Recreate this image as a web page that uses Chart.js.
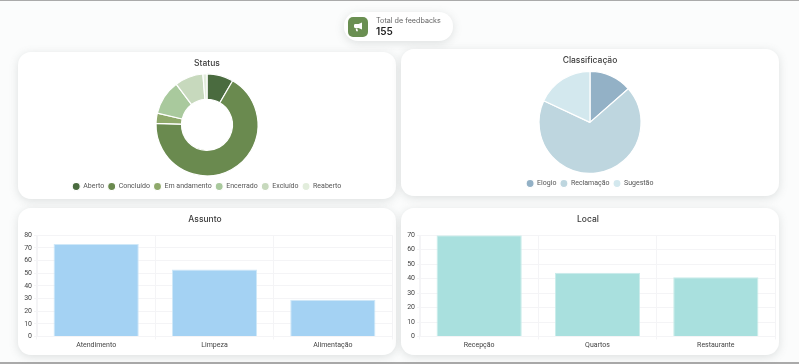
<!DOCTYPE html>
<html><head><meta charset="utf-8">
<script src="https://cdn.jsdelivr.net/npm/chart.js@4"></script>
<style>
html,body{margin:0;padding:0;background:#fbfcfc;width:799px;height:364px;overflow:hidden;font-family:Inter,sans-serif}
#wrap{position:absolute;left:0;top:0;width:799px;height:364px;filter:blur(.35px)}
.topbar,.botbar{position:absolute;left:0;width:799px;background:#aaa}
.topbar{top:0;height:1px}.botbar{top:362px;height:2px}
.card{position:absolute;background:#fff;border-radius:13px;box-shadow:0 2px 10px rgba(100,110,110,.2)}
.card canvas{position:absolute;left:0;top:0}
#total{left:344px;top:12px;width:109px;height:29px;border-radius:14px}
#ico{position:absolute;left:4px;top:5px;width:20px;height:20px;border-radius:5px;background:#6a8f52}
#ico svg{position:absolute;left:4px;top:4px}
#lbl{position:absolute;left:32px;top:4px;font-size:7.2px;color:#666;white-space:nowrap}
#val{position:absolute;left:32px;top:13px;font-size:10px;font-weight:600;color:#222}
</style></head><body><div id="wrap">
<div class="topbar"></div><div class="botbar"></div>
<div class="card" id="total"><div id="ico"><svg width="12" height="12" viewBox="0 0 12 12"><path fill="#fff" d="M10 1.5v7L6.5 7H3.2a1.2 1.2 0 0 1-1.2-1.2V4.2A1.2 1.2 0 0 1 3.2 3h3.3zM3.6 7.6h1.7l.7 2.6H4.3z"/></svg></div>
<div id="lbl">Total de feedbacks</div><div id="val">155</div></div>
<div class="card" style="left:18px;top:52px;width:378px;height:147px"><canvas id="c1" width="378" height="148"></canvas></div>
<div class="card" style="left:401px;top:49px;width:378px;height:147px"><canvas id="c2" width="378" height="148"></canvas></div>
<div class="card" style="left:18px;top:208px;width:378px;height:147px"><canvas id="c3" width="378" height="147"></canvas></div>
<div class="card" style="left:401px;top:208px;width:378px;height:147px"><canvas id="c4" width="378" height="147"></canvas></div>
</div>
<script>
const statusLabels=['Aberto','Concluído','Em andamento','Encerrado','Excluído','Reaberto'];
const statusValues=[13,104,5,17,14,2];
const statusColors=['#4a6b3f','#6a8a4f','#8fa96b','#a9c99d','#c7d9bd','#e2eddc'];
const classLabels=['Elogio','Reclamação','Sugestão'];
const classValues=[21,106,28];
const classColors=['#93b1c6','#bed6df','#d3e8ee'];
const assuntoLabels=['Atendimento','Limpeza','Alimentação'];
const assuntoValues=[73,53,29];
const localLabels=['Recepção','Quartos','Restaurante'];
const localValues=[70,44,41];
const titleFont={family:'Inter',size:8.5,weight:'500'};
const tickFont={family:'Roboto',size:7};
function titleOpt(t,b){return {display:true,text:t,color:'#3c3c3c',font:titleFont,padding:{top:6,bottom:b}};}
function round(id,type,labels,values,colors,title,cutout,gap){
 new Chart(document.getElementById(id),{type,data:{labels,datasets:[{data:values,backgroundColor:colors,borderColor:'#fff',borderWidth:1.2,radius:51}]},
 options:{responsive:false,animation:false,cutout,layout:{padding:{top:0,bottom:0}},plugins:{title:titleOpt(title,gap),
  legend:{position:'bottom',labels:{usePointStyle:true,pointStyle:'circle',boxWidth:8,boxHeight:5.7,padding:4,color:'#555',font:tickFont}}}}});
}
function bars(id,labels,values,color,border,title,max){
 new Chart(document.getElementById(id),{type:'bar',data:{labels,datasets:[{data:values,backgroundColor:color,borderColor:border,borderWidth:1,categoryPercentage:0.8,barPercentage:0.9}]},
 options:{responsive:false,animation:false,layout:{padding:{left:0,right:4,bottom:0}},plugins:{title:titleOpt(title,11),legend:{display:false}},
 scales:{x:{afterFit:s=>{s.height=18.5},grid:{color:'#f4f4f6',tickLength:3},border:{color:'#f4f4f6'},ticks:{color:'#444',font:tickFont,padding:2}},
 y:{afterFit:s=>{s.width=19},min:0,max,ticks:{stepSize:10,autoSkip:false,color:'#444',font:tickFont,padding:2},grid:{color:'#f4f4f6',tickLength:3},border:{color:'#f4f4f6'}}}}});
}
round('c1','doughnut',statusLabels,statusValues,statusColors,'Status','50%',2.5);
round('c2','pie',classLabels,classValues,classColors,'Classificação',0,3.5);
bars('c3',assuntoLabels,assuntoValues,'#a4d2f3','#cfe8f8','Assunto',80);
bars('c4',localLabels,localValues,'#a9e0de','#c9ecea','Local',70);
</script></body></html>
